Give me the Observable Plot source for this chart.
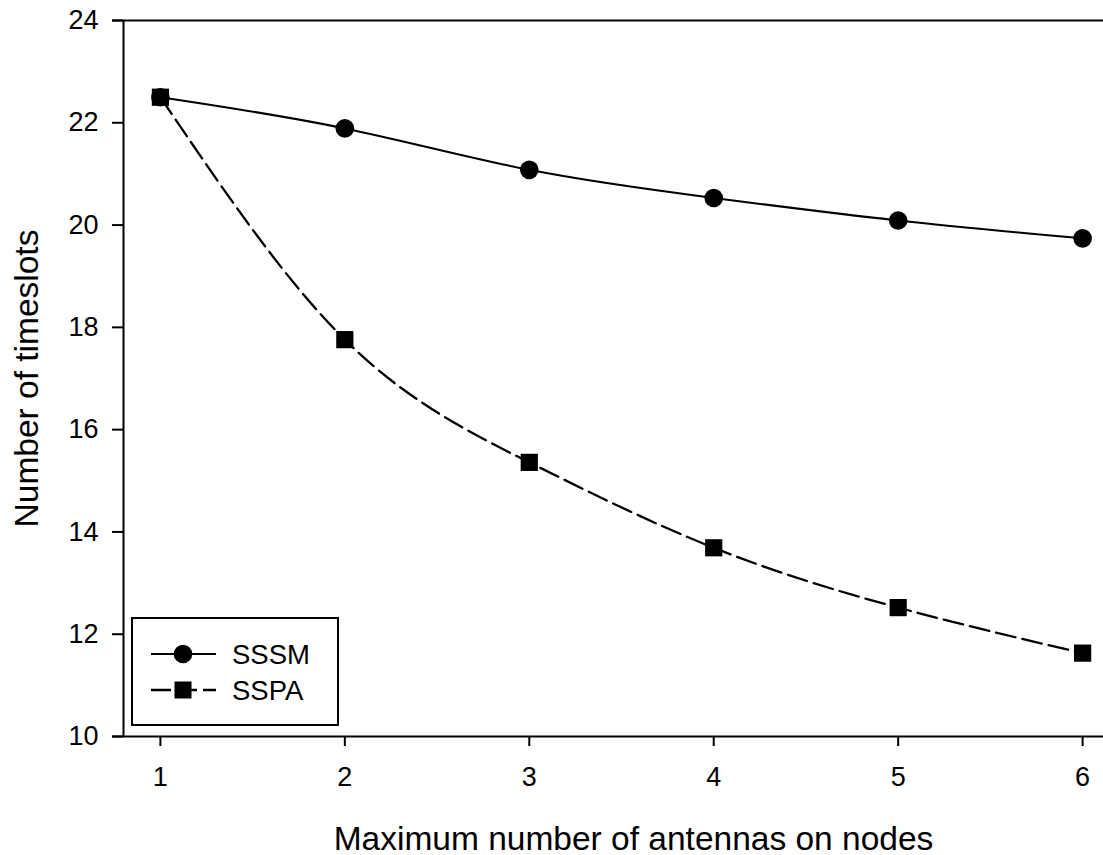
<!DOCTYPE html>
<html><head><meta charset="utf-8">
<script src="https://cdn.jsdelivr.net/npm/d3@7"></script>
<script src="https://cdn.jsdelivr.net/npm/@observablehq/plot@0.6"></script>
<style>
body{margin:0;background:#fff;}
#wrap{position:relative;width:1103px;height:855px;overflow:hidden;font-family:"Liberation Sans",Arial,sans-serif;background:#fff;}
#legend{position:absolute;left:131px;top:617px;}
</style></head><body><div id="wrap"></div>
<script>
const antennas = [1, 2, 3, 4, 5, 6];
const sssm = [22.50, 21.89, 21.08, 20.53, 20.09, 19.74];
const sspa = [22.50, 17.76, 15.36, 13.69, 12.52, 11.63];
const xTicks = [1, 2, 3, 4, 5, 6];
const yTicks = [10, 12, 14, 16, 18, 20, 22, 24];
const xDomain = [0.8, 6.2];
const yDomain = [10, 24];
const seriesNames = ["SSSM", "SSPA"];
const xTitle = "Maximum number of antennas on nodes";
const yTitle = "Number of timeslots";

const rowsA = antennas.map((a, i) => ({x: a, y: sssm[i]}));
const rowsB = antennas.map((a, i) => ({x: a, y: sspa[i]}));

const chart = Plot.plot({
  width: 1103, height: 855,
  marginLeft: 123, marginRight: -16, marginTop: 20, marginBottom: 119,
  style: {fontFamily: '"Liberation Sans", Arial, sans-serif', color: "black", background: "white", overflow: "hidden"},
  x: {domain: xDomain},
  y: {domain: yDomain},
  marks: [
    Plot.ruleY([yDomain[0], yDomain[1]], {insetLeft: -11, stroke: "black", strokeWidth: 2}),
    Plot.ruleX([xDomain[0]], {stroke: "black", strokeWidth: 2}),
    Plot.axisY({ticks: yTicks, tickSize: 11, tickPadding: 14, fontSize: 27, strokeWidth: 2, label: null, tickFormat: d => String(d)}),
    Plot.axisX({ticks: xTicks, tickSize: 10, tickPadding: 20, fontSize: 27, strokeWidth: 2, label: null, tickFormat: d => String(d)}),
    Plot.line(rowsA, {x: "x", y: "y", curve: "natural", stroke: "black", strokeWidth: 2}),
    Plot.line(rowsB, {x: "x", y: "y", curve: "natural", stroke: "black", strokeWidth: 2.3, strokeDasharray: "20,7"}),
    Plot.dot(rowsA, {x: "x", y: "y", symbol: "circle", r: 9.3, fill: "black", stroke: "none"}),
    Plot.dot(rowsB, {x: "x", y: "y", symbol: "square", r: 9.7, fill: "black", stroke: "none"}),
    Plot.text([xTitle], {frameAnchor: "bottom", textAnchor: "middle", lineAnchor: "bottom", dy: 113, dx: 12, fontSize: 33.5, fill: "black"}),
    Plot.text([yTitle], {frameAnchor: "left", textAnchor: "middle", rotate: -90, dx: -96, dy: 0, fontSize: 33.5, fill: "black"})
  ]
});
const wrap = document.getElementById("wrap");
wrap.appendChild(chart);

// legend
const lg = d3.select(wrap).append("svg").attr("id", "legend").attr("width", 209).attr("height", 111);
lg.append("rect").attr("x", 1).attr("y", 1).attr("width", 206).attr("height", 107)
  .attr("fill", "white").attr("stroke", "black").attr("stroke-width", 2);
const rowY = [37, 73];
seriesNames.forEach((name, i) => {
  const y = rowY[i];
  lg.append("line").attr("x1", 20).attr("x2", 85).attr("y1", y).attr("y2", y)
    .attr("stroke", "black").attr("stroke-width", i ? 2.3 : 2)
    .attr("stroke-dasharray", i ? "20,6" : null);
  if (i === 0) lg.append("circle").attr("cx", 52).attr("cy", y).attr("r", 9.3).attr("fill", "black");
  else lg.append("rect").attr("x", 43.5).attr("y", y - 8.5).attr("width", 17).attr("height", 17).attr("fill", "black");
  lg.append("text").attr("x", 101).attr("y", y).attr("dy", "0.35em")
    .attr("font-size", 27.5).attr("fill", "black")
    .style("font-family", '"Liberation Sans", Arial, sans-serif').text(name);
});
</script></body></html>
